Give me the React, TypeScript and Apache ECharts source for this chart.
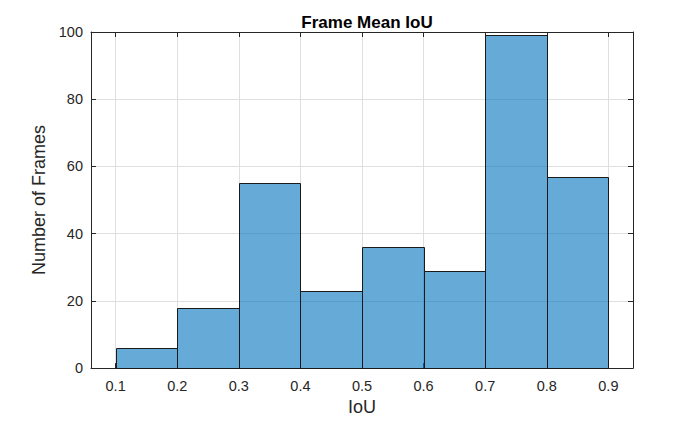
import React, { useEffect, useRef } from "react";
import * as echarts from "echarts";

const binEdges = [0.1, 0.2, 0.3, 0.4, 0.5, 0.6, 0.7, 0.8, 0.9];
const counts = [6, 18, 55, 23, 36, 29, 99, 57];
const yTicks = [0, 20, 40, 60, 80, 100];

const TEXT = "#262626";
const FONT = "Liberation Sans, Arial, Helvetica, sans-serif";

export default function App() {
  const ref = useRef<HTMLDivElement>(null);
  useEffect(() => {
    if (!ref.current) return;
    document.body.style.margin = "0";
    const chart = echarts.init(ref.current, null, { renderer: "svg" });
    const data = counts.map((c, i) => [binEdges[i], binEdges[i + 1], c]);
    const xCommon = {
      type: "value",
      min: 0.06,
      max: 0.94,
      splitNumber: 9,
    };
    chart.setOption({
      animation: false,
      backgroundColor: "#ffffff",
      textStyle: { fontFamily: FONT },
      title: {
        text: "Frame Mean IoU",
        left: 362,
        top: 9,
        textAlign: "center",
        textStyle: { fontSize: 17, fontWeight: "bold", color: "#000000", fontFamily: FONT },
      },
      grid: { left: 91, right: 67, top: 32, bottom: 49, containLabel: false },
      xAxis: [
        {
          ...xCommon,
          position: "bottom",
          name: "IoU",
          nameLocation: "middle",
          nameGap: 29,
          nameTextStyle: { fontSize: 18, color: TEXT, fontFamily: FONT },
          axisLine: { show: true, onZero: false, lineStyle: { color: TEXT, width: 1 } },
          axisTick: { show: true, inside: true, length: 5, lineStyle: { color: TEXT } },
          axisLabel: {
            show: true,
            margin: 10,
            fontSize: 14.5,
            color: TEXT,
            fontFamily: FONT,
            showMinLabel: false,
            showMaxLabel: false,
            formatter: (v: number) => {
              const r = Math.round(v * 10) / 10;
              if (Math.abs(r - v) > 1e-6) return "";
              return r.toFixed(1);
            },
          },
          splitLine: { show: true, lineStyle: { color: "#dfdfdf", width: 1 } },
        },
        {
          ...xCommon,
          position: "top",
          axisLine: { show: true, onZero: false, lineStyle: { color: TEXT, width: 1 } },
          axisTick: { show: true, inside: true, length: 5, lineStyle: { color: TEXT } },
          axisLabel: { show: false },
          splitLine: { show: false },
        },
      ],
      yAxis: [
        {
          type: "value",
          min: 0,
          max: 100,
          interval: 20,
          position: "left",
          name: "Number of Frames",
          nameLocation: "middle",
          nameGap: 40,
          nameTextStyle: { fontSize: 18, color: TEXT, fontFamily: FONT },
          axisLine: { show: true, onZero: false, lineStyle: { color: TEXT, width: 1 } },
          axisTick: { show: true, inside: true, length: 5, lineStyle: { color: TEXT } },
          axisLabel: {
            margin: 8,
            fontSize: 14.5,
            color: TEXT,
            fontFamily: FONT,
            formatter: (v: number) => (yTicks.includes(v) ? String(v) : ""),
          },
          splitLine: { show: true, lineStyle: { color: "#dfdfdf", width: 1 } },
        },
        {
          type: "value",
          min: 0,
          max: 100,
          interval: 20,
          position: "right",
          axisLine: { show: true, onZero: false, lineStyle: { color: TEXT, width: 1 } },
          axisTick: { show: true, inside: true, length: 5, lineStyle: { color: TEXT } },
          axisLabel: { show: false },
          splitLine: { show: false },
        },
      ],
      series: [
        {
          type: "custom",
          xAxisIndex: 0,
          yAxisIndex: 0,
          data,
          encode: { x: [0, 1], y: 2 },
          renderItem: (params: any, api: any) => {
            const x0 = api.value(0);
            const x1 = api.value(1);
            const y = api.value(2);
            const p0 = api.coord([x0, y]);
            const p1 = api.coord([x1, 0]);
            return {
              type: "rect",
              shape: {
                x: Math.round(p0[0]) + 0.5,
                y: Math.round(p0[1]) + 0.5,
                width: Math.round(p1[0]) - Math.round(p0[0]),
                height: Math.round(p1[1]) - Math.round(p0[1]),
              },
              style: {
                fill: "rgba(0,114,189,0.6)",
                stroke: "#1a1a1a",
                lineWidth: 1,
              },
            };
          },
        },
      ],
    });
    return () => chart.dispose();
  }, []);
  return <div ref={ref} style={{ width: 700, height: 421 }} />;
}
